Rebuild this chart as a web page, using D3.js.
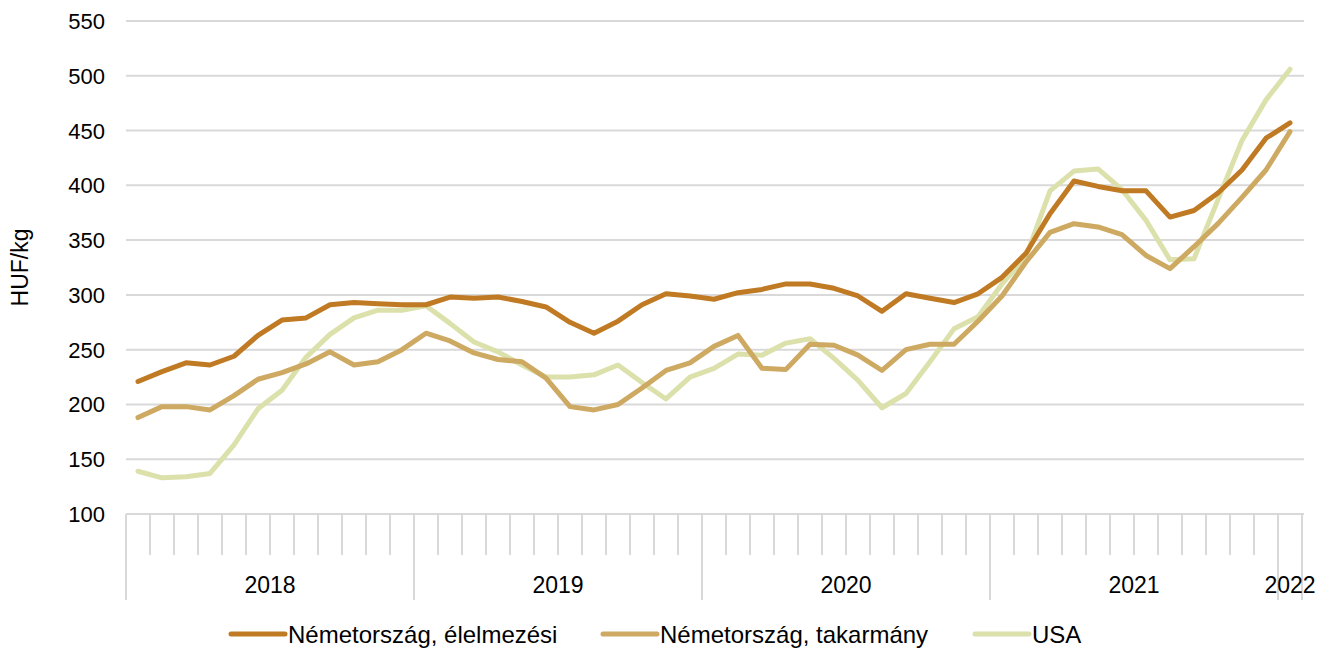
<!DOCTYPE html>
<html>
<head>
<meta charset="utf-8">
<script src="https://cdn.jsdelivr.net/npm/d3@7"></script>
<style>
  html, body { margin: 0; padding: 0; background: #fff; }
  svg { display: block; font-family: "Liberation Sans", Arial, sans-serif; }
</style>
</head>
<body>
<svg id="chart" width="1334" height="650"></svg>
<script>
// ---- data ----
const years = ["2018", "2019", "2020", "2021", "2022"];
const months = [
  "2018-01","2018-02","2018-03","2018-04","2018-05","2018-06","2018-07","2018-08","2018-09","2018-10","2018-11","2018-12",
  "2019-01","2019-02","2019-03","2019-04","2019-05","2019-06","2019-07","2019-08","2019-09","2019-10","2019-11","2019-12",
  "2020-01","2020-02","2020-03","2020-04","2020-05","2020-06","2020-07","2020-08","2020-09","2020-10","2020-11","2020-12",
  "2021-01","2021-02","2021-03","2021-04","2021-05","2021-06","2021-07","2021-08","2021-09","2021-10","2021-11","2021-12",
  "2022-01"
];
const germanyFood = [
  221,230,238,236,244,263,277,279,291,293,292,291,
  291,298,297,298,294,289,275,265,276,291,301,299,
  296,302,305,310,310,306,299,285,301,297,293,301,
  316,338,374,404,399,395,395,371,377,393,414,443,
  457
];
const germanyFeed = [
  188,198,198,195,208,223,229,237,248,236,239,250,
  265,258,247,241,239,224,198,195,200,215,231,238,
  253,263,233,232,255,254,245,231,250,255,255,276,
  299,330,357,365,362,355,336,324,344,365,389,414,
  449
];
const usa = [
  139,133,134,137,163,196,213,243,264,279,286,286,
  290,274,257,248,236,225,225,227,236,220,205,225,
  233,246,245,256,260,242,222,197,210,239,269,280,
  310,335,395,413,415,396,368,332,333,387,441,478,
  506
];
const yTicks = [100,150,200,250,300,350,400,450,500,550];
const seriesNames = ["Németország, élelmezési", "Németország, takarmány", "USA"];
const seriesColors = ["#C07A23", "#CDA962", "#DCE0AB"];
const yLabel = "HUF/kg";

// ---- layout ----
const svg = d3.select("#chart");
const plotLeft = 126, plotRight = 1302, plotTop = 21, plotBottom = 514;
const fs = 23;

const x = d3.scaleBand().domain(months).range([plotLeft, plotRight]).paddingInner(0).paddingOuter(0);
const y = d3.scaleLinear().domain([100, 550]).range([plotBottom, plotTop]);

// gridlines
svg.append("g").selectAll("line")
  .data(yTicks.filter(d => d > 100))
  .join("line")
  .attr("x1", plotLeft).attr("x2", plotRight + 2)
  .attr("y1", d => y(d)).attr("y2", d => y(d))
  .attr("stroke", "#d9d9d9").attr("stroke-width", 2);

// y tick labels
svg.append("g").selectAll("text")
  .data(yTicks)
  .join("text")
  .attr("x", 105).attr("y", d => y(d) + 8)
  .attr("text-anchor", "end")
  .attr("font-size", 22).attr("fill", "#000")
  .text(d => d);

// y label
svg.append("text")
  .attr("transform", `translate(28, ${(plotTop + plotBottom) / 2}) rotate(-90)`)
  .attr("text-anchor", "middle")
  .attr("font-size", fs).attr("fill", "#000")
  .text(yLabel);

// x axis line
svg.append("line")
  .attr("x1", plotLeft).attr("x2", plotRight + 2)
  .attr("y1", plotBottom).attr("y2", plotBottom)
  .attr("stroke", "#d9d9d9").attr("stroke-width", 2);

// month boundary ticks
const boundaries = months.map(m => ({ pos: x(m), major: m.endsWith("-01") }));
boundaries.push({ pos: x(months[months.length - 1]) + x.bandwidth(), major: true });
svg.append("g").selectAll("line")
  .data(boundaries)
  .join("line")
  .attr("x1", d => d.pos).attr("x2", d => d.pos)
  .attr("y1", plotBottom).attr("y2", d => d.major ? 600 : 555)
  .attr("stroke", "#d9d9d9").attr("stroke-width", 2);

// year labels
svg.append("g").selectAll("text")
  .data(years)
  .join("text")
  .attr("x", yr => {
    const ms = months.filter(m => m.startsWith(yr));
    const a = x(ms[0]), b = x(ms[ms.length - 1]) + x.bandwidth();
    return (a + b) / 2;
  })
  .attr("y", 593)
  .attr("text-anchor", "middle")
  .attr("font-size", fs).attr("fill", "#000")
  .text(d => d);

// lines
const allSeries = [germanyFood, germanyFeed, usa];
const line = d3.line()
  .x((d, i) => x(months[i]) + x.bandwidth() / 2)
  .y(d => y(d));

[2, 1, 0].forEach(k => {
  svg.append("path")
    .datum(allSeries[k])
    .attr("d", line)
    .attr("fill", "none")
    .attr("stroke", seriesColors[k])
    .attr("stroke-width", 5)
    .attr("stroke-linejoin", "round")
    .attr("stroke-linecap", "round");
});

// legend
const legendX = [231, 603, 975];
const lg = svg.append("g");
seriesNames.forEach((name, k) => {
  lg.append("line")
    .attr("x1", legendX[k]).attr("x2", legendX[k] + 54)
    .attr("y1", 634).attr("y2", 634)
    .attr("stroke", seriesColors[k]).attr("stroke-width", 5)
    .attr("stroke-linecap", "round");
  lg.append("text")
    .attr("x", legendX[k] + 57).attr("y", 643)
    .attr("font-size", 24).attr("fill", "#000")
    .text(name);
});
</script>
</body>
</html>
